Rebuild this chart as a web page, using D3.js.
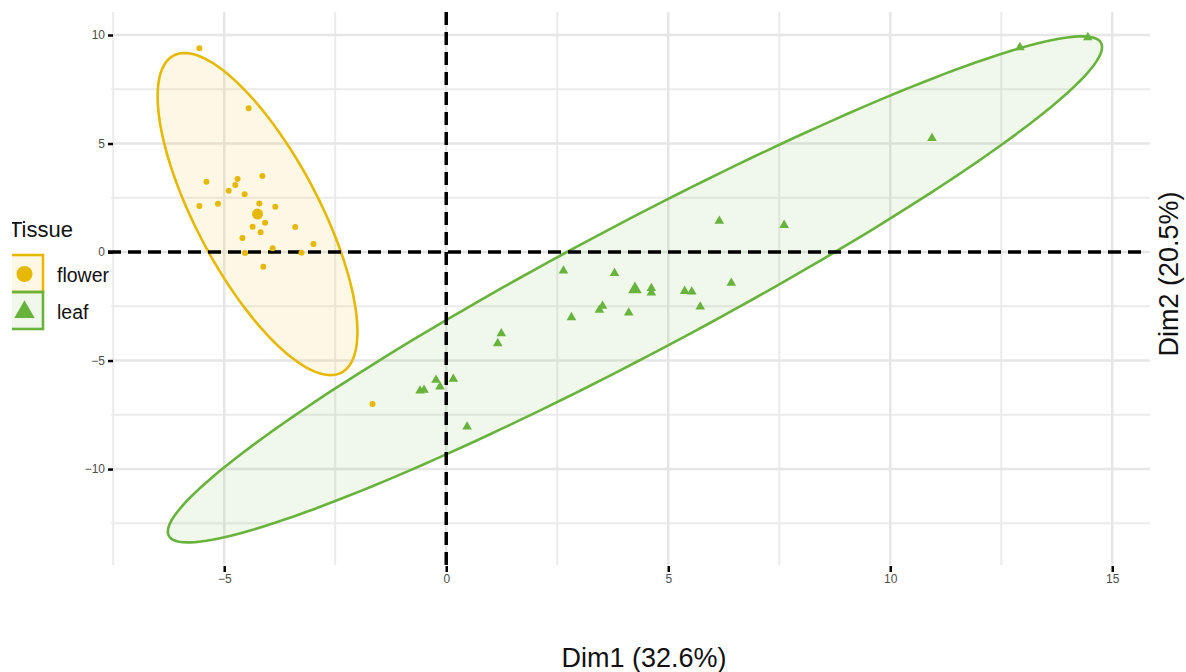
<!DOCTYPE html>
<html>
<head>
<meta charset="utf-8">
<script src="https://cdn.jsdelivr.net/npm/d3@7"></script>
<style>
  body { margin: 0; background: #fff; }
  svg { display: block; font-family: "Liberation Sans", Arial, sans-serif; }
</style>
</head>
<body>
<div id="chart"></div>
<script>
// PCA individuals plot, two tissues with confidence ellipses

// group names and colours
const groups = ["flower", "leaf"]
const groupColors = ["#E7B800", "#68B33C"]

// flower individuals (Dim1, Dim2)
const flowerX = [-5.56, -4.45, -5.40, -4.70, -4.75, -4.90, -4.14, -4.54, -5.56, -5.14, -4.21, -3.85,
                 -4.08, -4.36, -3.40, -4.18, -4.59, -2.99, -3.91, -4.53, -3.26, -4.12, -1.66]
const flowerY = [9.39, 6.62, 3.24, 3.36, 3.09, 2.82, 3.50, 2.66, 2.12, 2.23, 2.24, 2.09,
                 1.35, 1.17, 1.15, 0.91, 0.65, 0.37, 0.17, -0.05, -0.03, -0.68, -7.00]

// leaf individuals (Dim1, Dim2)
const leafX = [2.64, 3.79, 4.62, 4.62, 5.37, 5.53, 6.42, 3.52, 3.45, 4.11, 2.82, 5.72, 1.24,
               1.16, -0.23, 0.16, -0.14, -0.59, -0.50, 0.47, 6.15, 7.61, 10.94, 12.92, 14.45]
const leafY = [-0.86, -0.98, -1.67, -1.88, -1.80, -1.83, -1.43, -2.49, -2.67, -2.80, -3.01, -2.52, -3.75,
               -4.21, -5.90, -5.85, -6.21, -6.39, -6.36, -8.05, 1.43, 1.24, 5.24, 9.43, 9.89]

// group means (big points, also ellipse centres)
const meanX = [-4.25, 4.25]
const meanY = [1.75, -1.72]

// ellipse shape: half extent along Dim1, half extent along Dim2, correlation
const ellipseHalfX = [2.25, 10.52]
const ellipseHalfY = [7.42, 11.66]
const ellipseCorr = [-0.731, 0.957]

// ticks
const xTicks = [-5, 0, 5, 10, 15]
const yTicks = [-10, -5, 0, 5, 10]
const xMinor = [-7.5, -2.5, 2.5, 7.5, 12.5]
const yMinor = [-12.5, -7.5, -2.5, 2.5, 7.5]

let width = 1186
let height = 672

let svg = d3.select("#chart").append("svg")
    .attr("width", width)
    .attr("height", height)

// panel edges
let pLeft = 111, pRight = 1150, pTop = 12, pBottom = 565

let x = d3.scaleLinear().domain([-7.55, 15.85]).range([pLeft, pRight])
let y = d3.scaleLinear().domain([-14.42, 11.06]).range([pBottom, pTop])

// grid lines
let grid = svg.append("g")

grid.selectAll(".minor-x").data(xMinor).enter().append("line")
    .attr("x1", d => x(d)).attr("x2", d => x(d))
    .attr("y1", pTop).attr("y2", pBottom)
    .attr("stroke", "#EBEBEB").attr("stroke-width", 2)
grid.selectAll(".minor-y").data(yMinor).enter().append("line")
    .attr("x1", pLeft).attr("x2", pRight)
    .attr("y1", d => y(d)).attr("y2", d => y(d))
    .attr("stroke", "#EBEBEB").attr("stroke-width", 2)
grid.selectAll(".major-x").data(xTicks).enter().append("line")
    .attr("x1", d => x(d)).attr("x2", d => x(d))
    .attr("y1", pTop).attr("y2", pBottom)
    .attr("stroke", "#E6E6E6").attr("stroke-width", 2.5)
grid.selectAll(".major-y").data(yTicks).enter().append("line")
    .attr("x1", pLeft).attr("x2", pRight)
    .attr("y1", d => y(d)).attr("y2", d => y(d))
    .attr("stroke", "#E6E6E6").attr("stroke-width", 2.5)

// ellipses, built from centre + shape in data units
function ellipsePoints(i) {
    let pts = []
    let r = ellipseCorr[i]
    for (let k = 0; k <= 200; k++) {
        let t = k / 200 * 2 * Math.PI
        let ex = meanX[i] + ellipseHalfX[i] * Math.cos(t)
        let ey = meanY[i] + ellipseHalfY[i] * (r * Math.cos(t) + Math.sqrt(1 - r * r) * Math.sin(t))
        pts.push([x(ex), y(ey)])
    }
    return pts
}

let line = d3.line().curve(d3.curveLinearClosed)

svg.selectAll(".ellipse")
    .data(groups)
    .enter().append("path")
    .attr("class", "ellipse")
    .attr("d", (d, i) => line(ellipsePoints(i)))
    .attr("fill", (d, i) => groupColors[i])
    .attr("fill-opacity", 0.1)
    .attr("stroke", (d, i) => groupColors[i])
    .attr("stroke-width", 2.6)

// dashed zero lines
svg.append("line")
    .attr("x1", pLeft - 3).attr("x2", pRight - 5)
    .attr("y1", y(0)).attr("y2", y(0))
    .attr("stroke", "#000").attr("stroke-width", 3.5)
    .attr("stroke-dasharray", "13,7")
svg.append("line")
    .attr("x1", x(0)).attr("x2", x(0))
    .attr("y1", pTop).attr("y2", pBottom + 6)
    .attr("stroke", "#000").attr("stroke-width", 3.5)
    .attr("stroke-dasharray", "13,7")

// flower points
svg.selectAll(".flower")
    .data(flowerX)
    .enter().append("circle")
    .attr("cx", d => x(d))
    .attr("cy", (d, i) => y(flowerY[i]))
    .attr("r", 3)
    .attr("fill", groupColors[0])

// leaf points
let tri = d3.symbol().type(d3.symbolTriangle).size(40)
svg.selectAll(".leaf")
    .data(leafX)
    .enter().append("path")
    .attr("d", tri)
    .attr("transform", (d, i) => "translate(" + x(d) + "," + y(leafY[i]) + ")")
    .attr("fill", groupColors[1])

// group means
svg.append("circle")
    .attr("cx", x(meanX[0])).attr("cy", y(meanY[0]))
    .attr("r", 5.5)
    .attr("fill", groupColors[0])
svg.append("path")
    .attr("d", d3.symbol().type(d3.symbolTriangle).size(80))
    .attr("transform", "translate(" + x(meanX[1]) + "," + y(meanY[1]) + ")")
    .attr("fill", groupColors[1])

// axes
let yAxis = svg.append("g")
    .attr("transform", "translate(" + (pLeft + 2) + ",0)")
    .call(d3.axisLeft(y).tickValues(yTicks).tickSize(5).tickPadding(3))
let xAxis = svg.append("g")
    .attr("transform", "translate(0," + (pBottom + 1) + ")")
    .call(d3.axisBottom(x).tickValues(xTicks).tickSize(6).tickPadding(2))

for (let ax of [xAxis, yAxis]) {
    ax.select(".domain").remove()
    ax.selectAll(".tick line").attr("stroke", "#000").attr("stroke-width", 2.5)
    ax.selectAll(".tick text")
        .attr("fill", "#4D4D4D")
        .style("font-size", "12px")
        .style("font-family", "Liberation Sans, Arial, sans-serif")
}

// axis titles
svg.append("text")
    .attr("x", 644).attr("y", 667)
    .attr("text-anchor", "middle")
    .style("font-size", "27px")
    .attr("fill", "#111")
    .text("Dim1 (32.6%)")

svg.append("text")
    .attr("transform", "translate(1178,274) rotate(-90)")
    .attr("text-anchor", "middle")
    .style("font-size", "27px")
    .attr("fill", "#111")
    .text("Dim2 (20.5%)")

// legend (cut at the left edge like the original crop)
svg.append("clipPath").attr("id", "legclip")
    .append("rect").attr("x", 12).attr("y", 0).attr("width", 200).attr("height", 672)

let legend = svg.append("g").attr("clip-path", "url(#legclip)")

legend.append("text")
    .attr("x", 9).attr("y", 237)
    .style("font-size", "22px")
    .attr("fill", "#111")
    .text("Tissue")

let keys = legend.selectAll(".key")
    .data(groups)
    .enter().append("g")
    .attr("transform", (d, i) => "translate(0," + (255 + i * 37) + ")")

keys.append("rect")
    .attr("x", 6).attr("y", 0)
    .attr("width", 37).attr("height", 37)
    .attr("fill", (d, i) => groupColors[i])
    .attr("fill-opacity", 0.1)
    .attr("stroke", (d, i) => groupColors[i])
    .attr("stroke-width", 2.6)

keys.filter((d, i) => i == 0).append("circle")
    .attr("cx", 24.5).attr("cy", 19).attr("r", 8)
    .attr("fill", groupColors[0])
keys.filter((d, i) => i == 1).append("path")
    .attr("d", d3.symbol().type(d3.symbolTriangle).size(180))
    .attr("transform", "translate(24.5,20)")
    .attr("fill", groupColors[1])

keys.append("text")
    .attr("x", 57).attr("y", 26.5)
    .style("font-size", "19.5px")
    .attr("fill", "#111")
    .text(d => d)
</script>
</body>
</html>
